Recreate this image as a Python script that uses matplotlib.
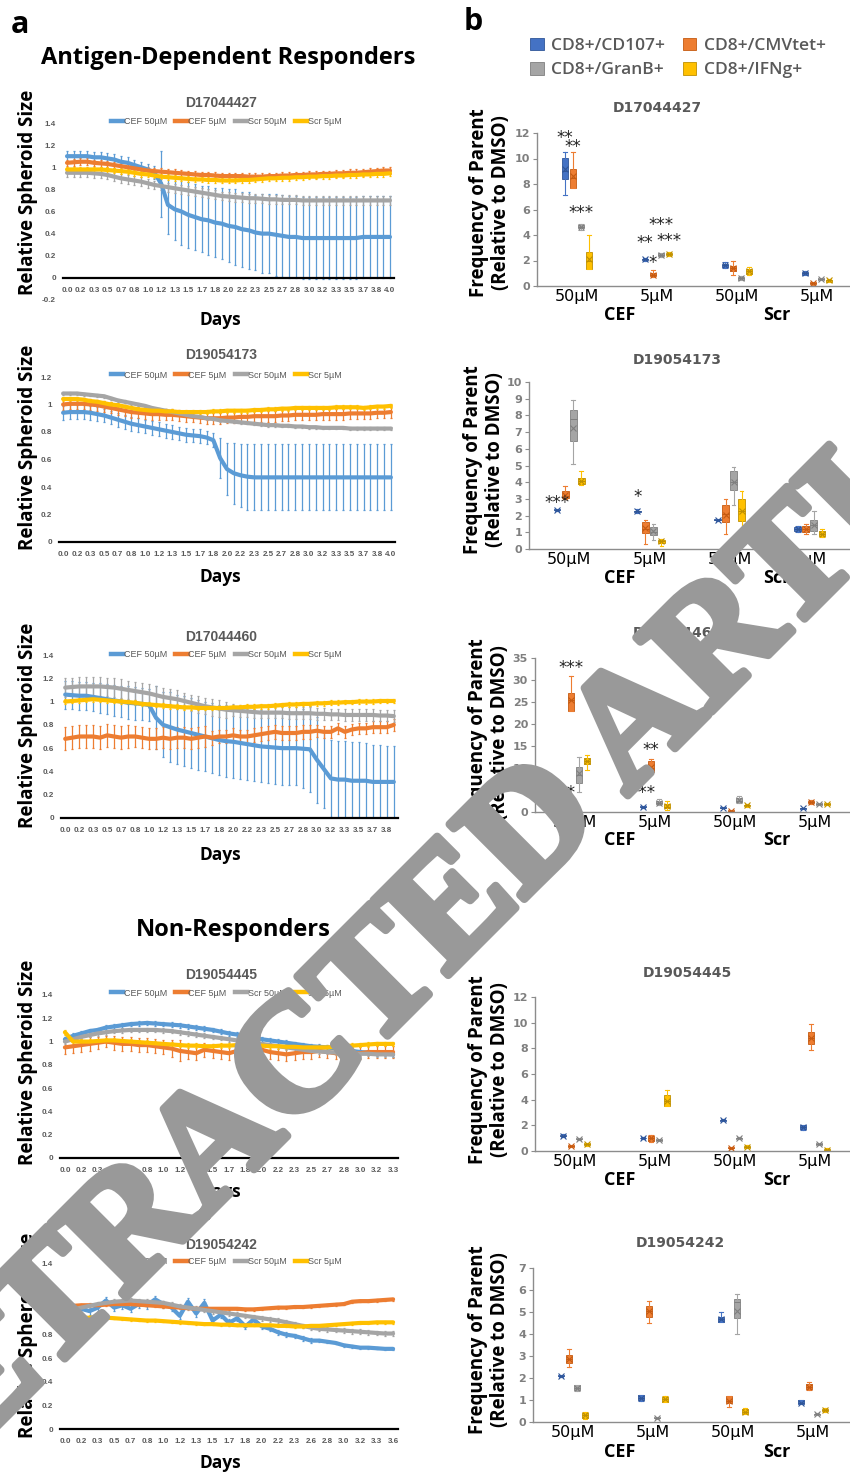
import matplotlib.pyplot as plt
import numpy as np
from matplotlib.patches import Patch
from matplotlib.lines import Line2D
from matplotlib.ticker import MultipleLocator, FuncFormatter
import matplotlib.patheffects as pe

# ---------------- data : panel a (relative spheroid size) ----------------
series_names = ['CEF 50µM', 'CEF 5µM', 'Scr 50µM', 'Scr 5µM']

days_4_0 = ['0.0', '0.2', '0.3', '0.5', '0.7', '0.8', '1.0', '1.2', '1.3', '1.5', '1.7', '1.8', '2.0',
            '2.2', '2.3', '2.5', '2.7', '2.8', '3.0', '3.2', '3.3', '3.5', '3.7', '3.8', '4.0']
days_3_8 = days_4_0[:24]
days_3_3 = days_4_0[:21]
days_3_6 = ['0.0', '0.2', '0.3', '0.5', '0.7', '0.8', '1.0', '1.2', '1.3', '1.5', '1.7', '1.8', '2.0',
            '2.2', '2.3', '2.6', '2.8', '3.0', '3.2', '3.3', '3.6']

# D17044427
d1_cef50 = [1.10, 1.10, 1.10, 1.10, 1.09, 1.09, 1.08, 1.07, 1.05, 1.04, 1.02, 1.00, 0.98,
            0.95, 0.85, 0.66, 0.62, 0.60, 0.57, 0.55, 0.53, 0.52, 0.50, 0.49, 0.47,
            0.46, 0.44, 0.43, 0.41, 0.40, 0.40, 0.39, 0.38, 0.37, 0.37, 0.36, 0.36,
            0.36, 0.36, 0.36, 0.36, 0.36, 0.36, 0.36, 0.37, 0.37, 0.37, 0.37, 0.37]
d1_cef50_err = [0.05, 0.05, 0.05, 0.05, 0.05, 0.05, 0.05, 0.05, 0.05, 0.05, 0.05, 0.05, 0.05, 0.06,
                0.30, 0.26, 0.28, 0.30, 0.30, 0.30, 0.30, 0.31, 0.31, 0.32, 0.33,
                0.34, 0.34, 0.35, 0.34, 0.36, 0.36, 0.37, 0.37, 0.37, 0.37, 0.37, 0.37,
                0.37, 0.37, 0.37, 0.37, 0.37, 0.37, 0.37, 0.37, 0.37, 0.37, 0.37, 0.37]
d1_cef5 = [1.04, 1.045, 1.05, 1.05, 1.04, 1.035, 1.03, 1.02, 1.01, 1.00, 0.99, 0.98, 0.97,
           0.965, 0.96, 0.955, 0.95, 0.945, 0.94, 0.935, 0.93, 0.93, 0.925, 0.92, 0.92,
           0.92, 0.92, 0.915, 0.915, 0.915, 0.92, 0.92, 0.925, 0.925, 0.93, 0.93, 0.935,
           0.935, 0.94, 0.94, 0.945, 0.945, 0.95, 0.95, 0.955, 0.96, 0.965, 0.97, 0.97]
d1_cef5_err = [0.03, 0.03, 0.03, 0.03, 0.03, 0.03, 0.03, 0.03, 0.03, 0.03, 0.03, 0.03, 0.03,
               0.03, 0.03, 0.03, 0.03, 0.03, 0.03, 0.03, 0.03, 0.03, 0.03, 0.03, 0.03,
               0.03, 0.03, 0.03, 0.03, 0.03, 0.03, 0.03, 0.03, 0.03, 0.03, 0.03, 0.03,
               0.03, 0.03, 0.03, 0.03, 0.03, 0.03, 0.03, 0.03, 0.03, 0.03, 0.03, 0.03]
d1_scr50 = [0.95, 0.95, 0.95, 0.95, 0.945, 0.94, 0.93, 0.915, 0.90, 0.89, 0.88, 0.87, 0.855,
            0.84, 0.83, 0.82, 0.81, 0.80, 0.79, 0.78, 0.77, 0.76, 0.75, 0.74, 0.735,
            0.73, 0.725, 0.72, 0.72, 0.715, 0.71, 0.71, 0.705, 0.705, 0.705, 0.70, 0.70,
            0.70, 0.70, 0.70, 0.70, 0.70, 0.70, 0.70, 0.70, 0.70, 0.70, 0.70, 0.70]
d1_scr50_err = [0.04, 0.04, 0.04, 0.04, 0.04, 0.04, 0.04, 0.04, 0.04, 0.04, 0.04, 0.04, 0.04,
                0.04, 0.04, 0.04, 0.04, 0.04, 0.04, 0.04, 0.04, 0.04, 0.04, 0.04, 0.04,
                0.04, 0.04, 0.04, 0.04, 0.04, 0.04, 0.04, 0.04, 0.04, 0.04, 0.04, 0.04,
                0.04, 0.04, 0.04, 0.04, 0.04, 0.04, 0.04, 0.04, 0.04, 0.04, 0.04, 0.04]
d1_scr5 = [0.98, 0.98, 0.98, 0.98, 0.98, 0.98, 0.975, 0.97, 0.965, 0.96, 0.95, 0.94, 0.935,
           0.925, 0.915, 0.91, 0.905, 0.90, 0.895, 0.89, 0.89, 0.885, 0.885, 0.88, 0.88,
           0.88, 0.885, 0.885, 0.89, 0.895, 0.90, 0.90, 0.905, 0.905, 0.91, 0.91, 0.915,
           0.915, 0.92, 0.92, 0.925, 0.925, 0.93, 0.93, 0.935, 0.935, 0.94, 0.94, 0.945]
d1_scr5_err = [0.025, 0.025, 0.025, 0.025, 0.025, 0.025, 0.025, 0.025, 0.025, 0.025, 0.025, 0.025, 0.025,
               0.025, 0.025, 0.025, 0.025, 0.025, 0.025, 0.025, 0.025, 0.025, 0.025, 0.025, 0.025,
               0.025, 0.025, 0.025, 0.025, 0.025, 0.025, 0.025, 0.025, 0.025, 0.025, 0.025, 0.025,
               0.025, 0.025, 0.025, 0.025, 0.025, 0.025, 0.025, 0.025, 0.025, 0.025, 0.025, 0.025]

# D19054173
d2_cef50 = [0.94, 0.945, 0.945, 0.945, 0.94, 0.93, 0.92, 0.905, 0.89, 0.875, 0.86, 0.85, 0.84,
            0.83, 0.82, 0.81, 0.80, 0.79, 0.78, 0.775, 0.77, 0.76, 0.74, 0.61, 0.53,
            0.50, 0.485, 0.475, 0.47, 0.47, 0.47, 0.47, 0.47, 0.47, 0.47, 0.47, 0.47,
            0.47, 0.47, 0.47, 0.47, 0.47, 0.47, 0.47, 0.47, 0.47, 0.47, 0.47, 0.47]
d2_cef50_err = [0.05, 0.05, 0.05, 0.05, 0.05, 0.05, 0.05, 0.05, 0.05, 0.05, 0.05, 0.05, 0.05,
                0.05, 0.05, 0.05, 0.05, 0.05, 0.05, 0.05, 0.05, 0.05, 0.05, 0.145, 0.19,
                0.22, 0.23, 0.24, 0.24, 0.24, 0.24, 0.24, 0.24, 0.24, 0.24, 0.24, 0.24,
                0.24, 0.24, 0.24, 0.24, 0.24, 0.24, 0.24, 0.24, 0.24, 0.24, 0.24, 0.24]
d2_cef5 = [1.00, 1.005, 1.005, 1.005, 1.00, 0.995, 0.985, 0.975, 0.965, 0.955, 0.945, 0.94, 0.935,
           0.93, 0.93, 0.925, 0.925, 0.92, 0.915, 0.91, 0.905, 0.90, 0.90, 0.90, 0.905,
           0.905, 0.91, 0.91, 0.915, 0.915, 0.915, 0.915, 0.92, 0.92, 0.925, 0.925, 0.925,
           0.925, 0.93, 0.93, 0.93, 0.93, 0.935, 0.935, 0.935, 0.935, 0.94, 0.94, 0.945]
d2_cef5_err = [0.04, 0.04, 0.04, 0.04, 0.04, 0.04, 0.04, 0.04, 0.04, 0.04, 0.04, 0.04, 0.04,
               0.04, 0.04, 0.04, 0.04, 0.04, 0.04, 0.04, 0.04, 0.04, 0.04, 0.04, 0.04,
               0.04, 0.04, 0.04, 0.04, 0.04, 0.04, 0.04, 0.04, 0.04, 0.04, 0.04, 0.04,
               0.04, 0.04, 0.04, 0.04, 0.04, 0.04, 0.04, 0.04, 0.04, 0.04, 0.04, 0.04]
d2_scr50 = [1.08, 1.08, 1.08, 1.075, 1.07, 1.065, 1.06, 1.045, 1.03, 1.02, 1.01, 1.00, 0.99,
            0.975, 0.965, 0.955, 0.945, 0.935, 0.925, 0.915, 0.91, 0.90, 0.895, 0.885, 0.88,
            0.875, 0.87, 0.865, 0.86, 0.855, 0.85, 0.85, 0.845, 0.845, 0.84, 0.84, 0.835,
            0.835, 0.83, 0.83, 0.83, 0.83, 0.825, 0.825, 0.825, 0.825, 0.825, 0.825, 0.825]
d2_scr50_err = [0.01, 0.01, 0.01, 0.01, 0.01, 0.01, 0.01, 0.01, 0.01, 0.01, 0.01, 0.01, 0.01,
                0.01, 0.01, 0.01, 0.01, 0.01, 0.01, 0.01, 0.01, 0.01, 0.01, 0.01, 0.01,
                0.01, 0.01, 0.01, 0.01, 0.01, 0.01, 0.01, 0.01, 0.01, 0.01, 0.01, 0.01,
                0.01, 0.01, 0.01, 0.01, 0.01, 0.01, 0.01, 0.01, 0.01, 0.01, 0.01, 0.01]
d2_scr5 = [1.04, 1.04, 1.04, 1.035, 1.025, 1.02, 1.01, 1.00, 0.995, 0.985, 0.975, 0.965, 0.96,
           0.955, 0.955, 0.95, 0.95, 0.945, 0.945, 0.945, 0.945, 0.945, 0.95, 0.95, 0.955,
           0.955, 0.955, 0.955, 0.96, 0.96, 0.965, 0.965, 0.97, 0.97, 0.975, 0.975, 0.975,
           0.975, 0.975, 0.975, 0.98, 0.98, 0.98, 0.98, 0.975, 0.98, 0.985, 0.985, 0.99]
d2_scr5_err = [0.015, 0.015, 0.015, 0.015, 0.015, 0.015, 0.015, 0.015, 0.015, 0.015, 0.015, 0.015, 0.015,
               0.015, 0.015, 0.015, 0.015, 0.015, 0.015, 0.015, 0.015, 0.015, 0.015, 0.015, 0.015,
               0.015, 0.015, 0.015, 0.015, 0.015, 0.015, 0.015, 0.015, 0.015, 0.015, 0.015, 0.015,
               0.015, 0.015, 0.015, 0.015, 0.015, 0.015, 0.015, 0.015, 0.015, 0.015, 0.015, 0.015]

# D17044460
d3_cef50 = [1.06, 1.055, 1.05, 1.05, 1.04, 1.03, 1.02, 1.01, 1.00, 0.99, 0.985, 0.98,
            0.97, 0.86, 0.80, 0.78, 0.76, 0.745, 0.73, 0.715, 0.70, 0.685, 0.67, 0.66,
            0.655, 0.645, 0.635, 0.625, 0.615, 0.61, 0.605, 0.60, 0.60, 0.60, 0.595, 0.59,
            0.50, 0.42, 0.34, 0.33, 0.33, 0.32, 0.32, 0.32, 0.31, 0.31, 0.31, 0.31]
d3_cef50_err = [0.12, 0.12, 0.12, 0.12, 0.12, 0.13, 0.13, 0.13, 0.13, 0.14, 0.14, 0.14,
                0.14, 0.27, 0.28, 0.30, 0.30, 0.30, 0.30, 0.30, 0.30, 0.30, 0.30, 0.31,
                0.31, 0.31, 0.31, 0.31, 0.31, 0.31, 0.31, 0.32, 0.32, 0.32, 0.34, 0.37,
                0.37, 0.33, 0.33, 0.33, 0.33, 0.33, 0.33, 0.32, 0.32, 0.32, 0.31, 0.31]
d3_cef5 = [0.68, 0.69, 0.70, 0.70, 0.70, 0.69, 0.71, 0.70, 0.69, 0.70, 0.70, 0.69,
           0.68, 0.68, 0.69, 0.68, 0.69, 0.69, 0.68, 0.69, 0.70, 0.69, 0.70, 0.70,
           0.71, 0.70, 0.70, 0.71, 0.72, 0.73, 0.74, 0.73, 0.73, 0.73, 0.74, 0.74,
           0.75, 0.74, 0.74, 0.77, 0.74, 0.76, 0.77, 0.77, 0.78, 0.78, 0.78, 0.80]
d3_cef5_err = [0.10, 0.10, 0.10, 0.10, 0.10, 0.10, 0.10, 0.10, 0.10, 0.10, 0.09, 0.09,
               0.09, 0.09, 0.09, 0.09, 0.09, 0.09, 0.09, 0.09, 0.09, 0.06, 0.06, 0.06,
               0.06, 0.06, 0.06, 0.06, 0.06, 0.06, 0.06, 0.06, 0.06, 0.06, 0.06, 0.06,
               0.05, 0.05, 0.05, 0.05, 0.05, 0.05, 0.05, 0.05, 0.05, 0.05, 0.05, 0.05]
d3_scr50 = [1.12, 1.125, 1.13, 1.13, 1.13, 1.13, 1.125, 1.12, 1.11, 1.10, 1.09, 1.08,
            1.07, 1.055, 1.04, 1.03, 1.02, 1.005, 0.99, 0.975, 0.96, 0.95, 0.94, 0.93,
            0.925, 0.92, 0.915, 0.91, 0.905, 0.905, 0.905, 0.905, 0.90, 0.90, 0.90, 0.90,
            0.895, 0.895, 0.89, 0.89, 0.885, 0.885, 0.885, 0.885, 0.885, 0.88, 0.88, 0.875]
d3_scr50_err = [0.08, 0.08, 0.08, 0.08, 0.08, 0.08, 0.08, 0.08, 0.08, 0.08, 0.08, 0.08,
                0.08, 0.08, 0.08, 0.08, 0.08, 0.07, 0.07, 0.07, 0.07, 0.07, 0.07, 0.07,
                0.05, 0.05, 0.05, 0.05, 0.05, 0.05, 0.05, 0.05, 0.05, 0.05, 0.05, 0.05,
                0.05, 0.05, 0.05, 0.05, 0.05, 0.05, 0.05, 0.05, 0.05, 0.05, 0.05, 0.05]
d3_scr5 = [1.00, 1.005, 1.01, 1.015, 1.02, 1.015, 1.01, 1.005, 1.00, 0.995, 0.99, 0.98,
           0.975, 0.97, 0.965, 0.96, 0.955, 0.95, 0.95, 0.945, 0.945, 0.945, 0.945, 0.945,
           0.95, 0.95, 0.955, 0.955, 0.96, 0.96, 0.965, 0.97, 0.975, 0.975, 0.98, 0.98,
           0.985, 0.985, 0.99, 0.99, 0.995, 0.995, 1.00, 1.00, 1.00, 1.005, 1.005, 1.005]
d3_scr5_err = [0.02, 0.02, 0.02, 0.02, 0.02, 0.02, 0.02, 0.02, 0.02, 0.02, 0.02, 0.02,
               0.02, 0.02, 0.02, 0.02, 0.02, 0.02, 0.02, 0.02, 0.02, 0.02, 0.02, 0.02,
               0.02, 0.02, 0.02, 0.02, 0.02, 0.02, 0.02, 0.02, 0.02, 0.02, 0.02, 0.02,
               0.02, 0.02, 0.02, 0.02, 0.02, 0.02, 0.02, 0.02, 0.02, 0.02, 0.02, 0.02]

# D19054445
d4_cef50 = [1.02, 1.05, 1.07, 1.09, 1.10, 1.12, 1.13, 1.14, 1.15, 1.155, 1.16,
            1.155, 1.15, 1.145, 1.14, 1.13, 1.12, 1.11, 1.10, 1.085, 1.07,
            1.06, 1.05, 1.035, 1.02, 1.01, 1.00, 0.99, 0.98, 0.97, 0.96,
            0.955, 0.95, 0.94, 0.93, 0.92, 0.91, 0.905, 0.90, 0.895, 0.89]
d4_cef50_err = [0.02, 0.02, 0.02, 0.02, 0.02, 0.02, 0.02, 0.02, 0.02, 0.02, 0.02,
                0.02, 0.02, 0.02, 0.02, 0.02, 0.02, 0.02, 0.02, 0.02, 0.02,
                0.02, 0.02, 0.02, 0.02, 0.02, 0.02, 0.02, 0.02, 0.02, 0.02,
                0.02, 0.02, 0.02, 0.02, 0.02, 0.02, 0.02, 0.02, 0.02, 0.02]
d4_cef5 = [0.95, 0.96, 0.97, 0.98, 0.99, 1.00, 0.99, 0.98, 0.98, 0.97, 0.97,
           0.96, 0.95, 0.94, 0.92, 0.91, 0.90, 0.93, 0.92, 0.91, 0.90,
           0.92, 0.93, 0.91, 0.93, 0.91, 0.90, 0.89, 0.90, 0.91, 0.91,
           0.92, 0.91, 0.90, 0.90, 0.90, 0.90, 0.91, 0.91, 0.91, 0.91]
d4_cef5_err = [0.06, 0.06, 0.06, 0.06, 0.05, 0.05, 0.06, 0.06, 0.06, 0.06, 0.06,
               0.06, 0.06, 0.07, 0.09, 0.06, 0.06, 0.06, 0.06, 0.06, 0.06,
               0.06, 0.06, 0.06, 0.06, 0.06, 0.06, 0.06, 0.06, 0.06, 0.06,
               0.05, 0.05, 0.05, 0.05, 0.05, 0.05, 0.05, 0.05, 0.05, 0.05]
d4_scr50 = [1.00, 1.02, 1.04, 1.055, 1.07, 1.08, 1.09, 1.095, 1.10, 1.10, 1.10,
            1.10, 1.095, 1.09, 1.08, 1.07, 1.06, 1.05, 1.04, 1.03, 1.02,
            1.01, 1.00, 0.99, 0.98, 0.97, 0.96, 0.95, 0.94, 0.93, 0.92,
            0.915, 0.91, 0.905, 0.90, 0.90, 0.895, 0.895, 0.89, 0.89, 0.89]
d4_scr50_err = [0.02, 0.02, 0.02, 0.02, 0.02, 0.02, 0.02, 0.02, 0.02, 0.02, 0.02,
                0.02, 0.02, 0.02, 0.02, 0.02, 0.02, 0.02, 0.02, 0.02, 0.02,
                0.02, 0.02, 0.02, 0.02, 0.02, 0.02, 0.02, 0.02, 0.02, 0.02,
                0.02, 0.02, 0.02, 0.02, 0.02, 0.02, 0.02, 0.02, 0.02, 0.02]
d4_scr5 = [1.08, 1.00, 1.00, 1.00, 1.005, 1.01, 1.01, 1.005, 1.00, 0.995, 0.99,
           0.985, 0.98, 0.975, 0.97, 0.965, 0.965, 0.96, 0.96, 0.965, 0.965,
           0.97, 0.97, 0.965, 0.965, 0.96, 0.96, 0.955, 0.955, 0.95, 0.95,
           0.95, 0.95, 0.955, 0.96, 0.965, 0.97, 0.975, 0.98, 0.98, 0.98]
d4_scr5_err = [0.02, 0.02, 0.02, 0.02, 0.02, 0.02, 0.02, 0.02, 0.02, 0.02, 0.02,
               0.02, 0.02, 0.02, 0.02, 0.02, 0.02, 0.02, 0.02, 0.02, 0.02,
               0.02, 0.02, 0.02, 0.02, 0.02, 0.02, 0.02, 0.02, 0.02, 0.02,
               0.02, 0.02, 0.02, 0.02, 0.02, 0.02, 0.02, 0.02, 0.02, 0.02]

# D19054242
d5_cef50 = [0.95, 1.00, 1.02, 1.00, 1.03, 1.09, 1.03, 1.05, 1.02, 1.06, 1.05,
            1.10, 1.06, 1.03, 0.96, 1.08, 0.98, 1.07, 0.92, 0.97, 0.90,
            0.94, 0.87, 0.93, 0.87, 0.85, 0.82, 0.80, 0.79, 0.77, 0.75,
            0.75, 0.74, 0.73, 0.71, 0.70, 0.69, 0.69, 0.685, 0.68, 0.68]
d5_cef50_err = [0.03, 0.03, 0.03, 0.03, 0.03, 0.03, 0.03, 0.03, 0.03, 0.03, 0.03,
                0.03, 0.03, 0.03, 0.03, 0.03, 0.03, 0.03, 0.03, 0.03, 0.03,
                0.02, 0.02, 0.02, 0.02, 0.02, 0.02, 0.02, 0.02, 0.02, 0.02,
                0.01, 0.01, 0.01, 0.01, 0.01, 0.01, 0.01, 0.01, 0.01, 0.01]
d5_cef5 = [1.04, 1.045, 1.05, 1.05, 1.05, 1.055, 1.06, 1.06, 1.06, 1.055, 1.05,
           1.045, 1.04, 1.035, 1.03, 1.025, 1.02, 1.02, 1.02, 1.02, 1.02,
           1.02, 1.015, 1.015, 1.02, 1.025, 1.03, 1.03, 1.035, 1.035, 1.04,
           1.045, 1.05, 1.055, 1.06, 1.08, 1.085, 1.085, 1.09, 1.095, 1.10]
d5_cef5_err = [0.01, 0.01, 0.01, 0.01, 0.01, 0.01, 0.01, 0.01, 0.01, 0.01, 0.01,
               0.01, 0.01, 0.01, 0.01, 0.01, 0.01, 0.01, 0.01, 0.01, 0.01,
               0.01, 0.01, 0.01, 0.01, 0.01, 0.01, 0.01, 0.01, 0.01, 0.01,
               0.01, 0.01, 0.01, 0.01, 0.01, 0.01, 0.01, 0.01, 0.01, 0.01]
d5_scr50 = [1.00, 1.015, 1.03, 1.045, 1.06, 1.07, 1.08, 1.085, 1.09, 1.085, 1.08,
            1.075, 1.07, 1.055, 1.04, 1.03, 1.02, 1.01, 1.00, 0.99, 0.98,
            0.97, 0.96, 0.95, 0.94, 0.93, 0.92, 0.905, 0.89, 0.875, 0.86,
            0.85, 0.845, 0.84, 0.835, 0.83, 0.825, 0.82, 0.815, 0.81, 0.81]
d5_scr50_err = [0.02, 0.02, 0.02, 0.02, 0.02, 0.02, 0.02, 0.02, 0.02, 0.02, 0.02,
                0.02, 0.02, 0.02, 0.02, 0.02, 0.02, 0.02, 0.02, 0.02, 0.02,
                0.02, 0.02, 0.02, 0.02, 0.02, 0.02, 0.02, 0.02, 0.02, 0.02,
                0.02, 0.02, 0.02, 0.02, 0.02, 0.02, 0.02, 0.02, 0.02, 0.02]
d5_scr5 = [0.97, 0.93, 0.94, 0.945, 0.945, 0.945, 0.94, 0.935, 0.93, 0.925, 0.92,
           0.92, 0.915, 0.91, 0.905, 0.90, 0.895, 0.89, 0.89, 0.885, 0.885,
           0.88, 0.88, 0.88, 0.88, 0.88, 0.875, 0.875, 0.87, 0.87, 0.875,
           0.875, 0.88, 0.885, 0.89, 0.895, 0.90, 0.90, 0.905, 0.905, 0.905]
d5_scr5_err = [0.01, 0.01, 0.01, 0.01, 0.01, 0.01, 0.01, 0.01, 0.01, 0.01, 0.01,
               0.01, 0.01, 0.01, 0.01, 0.01, 0.01, 0.01, 0.01, 0.01, 0.01,
               0.01, 0.01, 0.01, 0.01, 0.01, 0.01, 0.01, 0.01, 0.01, 0.01,
               0.01, 0.01, 0.01, 0.01, 0.01, 0.01, 0.01, 0.01, 0.01, 0.01]

# ---------------- data : panel b (box plots) ----------------
# rows: [low whisker, q1, median, q3, high whisker, mean]; order = condition x marker
markers_b = ['CD8+/CD107+', 'CD8+/CMVtet+', 'CD8+/GranB+', 'CD8+/IFNg+']
conditions = ['50µM', '5µM', '50µM', '5µM']

b1_boxes = [[7.1, 8.4, 9.0, 10.05, 10.5, 9.2], [7.7, 7.7, 8.5, 9.15, 10.5, 8.6],
            [4.4, 4.55, 4.65, 4.8, 4.9, 4.65], [1.3, 1.3, 2.0, 2.65, 4.0, 2.15],
            [2.0, 2.05, 2.1, 2.15, 2.2, 2.1], [0.7, 0.75, 0.85, 1.0, 1.25, 0.9],
            [2.3, 2.35, 2.45, 2.55, 2.6, 2.45], [2.35, 2.4, 2.5, 2.6, 2.65, 2.5],
            [1.45, 1.5, 1.65, 1.75, 1.85, 1.65], [0.9, 1.15, 1.4, 1.6, 2.0, 1.4],
            [0.45, 0.5, 0.6, 0.7, 0.75, 0.6], [0.85, 0.95, 1.15, 1.35, 1.5, 1.15],
            [0.85, 0.9, 1.0, 1.1, 1.2, 1.0], [0.1, 0.15, 0.25, 0.3, 0.35, 0.25],
            [0.45, 0.5, 0.55, 0.6, 0.65, 0.55], [0.3, 0.35, 0.45, 0.5, 0.55, 0.45]]
b2_boxes = [[2.3, 2.32, 2.35, 2.38, 2.42, 2.35], [3.0, 3.05, 3.2, 3.45, 3.8, 3.25],
            [5.1, 6.45, 7.8, 8.35, 8.9, 7.25], [3.85, 3.9, 4.05, 4.25, 4.7, 4.1],
            [2.15, 2.2, 2.25, 2.3, 2.4, 2.25], [0.3, 0.95, 1.2, 1.6, 1.75, 1.25],
            [0.55, 0.85, 1.0, 1.3, 1.5, 1.05], [0.2, 0.35, 0.45, 0.55, 0.6, 0.45],
            [1.7, 1.72, 1.75, 1.78, 1.8, 1.75], [0.9, 1.6, 2.1, 2.65, 3.0, 2.05],
            [2.65, 3.55, 4.0, 4.65, 4.9, 4.0], [1.1, 1.7, 2.3, 3.0, 3.45, 2.3],
            [1.0, 1.1, 1.2, 1.3, 1.4, 1.2], [0.9, 1.0, 1.2, 1.4, 1.5, 1.2],
            [0.9, 1.1, 1.45, 1.75, 2.25, 1.45], [0.7, 0.8, 0.9, 1.05, 1.2, 0.9]]
b3_boxes = [[1.3, 1.45, 1.6, 1.75, 1.9, 1.6], [23.0, 23.0, 25.5, 27.0, 31.0, 25.5],
            [4.5, 6.6, 8.5, 10.2, 12.5, 8.9], [9.5, 11.0, 11.5, 12.2, 13.0, 11.6],
            [1.0, 1.1, 1.2, 1.3, 1.4, 1.2], [8.8, 9.2, 10.0, 11.5, 12.0, 10.2],
            [1.5, 1.8, 2.1, 2.4, 3.0, 2.1], [0.5, 0.8, 1.2, 1.9, 2.5, 1.3],
            [0.8, 0.9, 1.0, 1.1, 1.2, 1.0], [0.1, 0.2, 0.3, 0.4, 0.5, 0.3],
            [2.0, 2.2, 2.6, 3.2, 3.6, 2.7], [1.1, 1.3, 1.5, 1.7, 1.9, 1.5],
            [0.6, 0.7, 0.8, 0.9, 1.0, 0.8], [1.9, 2.0, 2.2, 2.5, 2.7, 2.25],
            [1.5, 1.6, 1.8, 2.0, 2.1, 1.8], [1.5, 1.65, 1.8, 2.0, 2.1, 1.8]]
b4_boxes = [[1.1, 1.15, 1.2, 1.25, 1.3, 1.2], [0.3, 0.35, 0.4, 0.45, 0.5, 0.4],
            [0.85, 0.9, 0.95, 1.0, 1.05, 0.95], [0.4, 0.45, 0.55, 0.6, 0.65, 0.55],
            [0.95, 0.98, 1.0, 1.05, 1.08, 1.0], [0.7, 0.8, 1.0, 1.2, 1.25, 1.0],
            [0.75, 0.8, 0.86, 0.9, 0.95, 0.86], [3.5, 3.5, 3.9, 4.35, 4.75, 3.9],
            [2.3, 2.35, 2.4, 2.45, 2.5, 2.4], [0.15, 0.2, 0.25, 0.3, 0.35, 0.25],
            [0.9, 0.95, 1.0, 1.05, 1.1, 1.0], [0.2, 0.25, 0.3, 0.4, 0.45, 0.32],
            [1.6, 1.7, 1.85, 2.0, 2.05, 1.85], [7.9, 8.3, 8.8, 9.3, 9.9, 8.8],
            [0.45, 0.5, 0.55, 0.6, 0.65, 0.55], [0.0, 0.05, 0.1, 0.15, 0.2, 0.1]]
b5_boxes = [[2.05, 2.08, 2.1, 2.12, 2.15, 2.1], [2.5, 2.66, 2.85, 3.04, 3.3, 2.85],
            [1.42, 1.45, 1.55, 1.68, 1.7, 1.55], [0.15, 0.18, 0.3, 0.4, 0.45, 0.3],
            [0.95, 1.0, 1.1, 1.23, 1.25, 1.1], [4.5, 4.77, 5.05, 5.27, 5.5, 5.05],
            [0.15, 0.18, 0.2, 0.22, 0.25, 0.2], [0.9, 0.92, 1.03, 1.15, 1.2, 1.03],
            [4.55, 4.55, 4.68, 4.77, 5.0, 4.68], [0.7, 0.86, 0.97, 1.18, 1.2, 0.97],
            [4.0, 4.73, 5.45, 5.6, 5.8, 5.05], [0.35, 0.36, 0.45, 0.6, 0.62, 0.45],
            [0.8, 0.82, 0.88, 1.0, 1.0, 0.88], [1.45, 1.5, 1.6, 1.72, 1.8, 1.6],
            [0.3, 0.33, 0.35, 0.38, 0.4, 0.35], [0.45, 0.5, 0.55, 0.6, 0.62, 0.55]]

# significance marks: (condition, marker, y, text)
b1_stars = [(0, 0, 11.6, '**'), (0, 1, 10.9, '**'), (0, 2, 5.7, '***'), (1, 0, 3.4, '**'),
            (1, 1, 1.8, '*'), (1, 2, 4.8, '***'), (1, 3, 3.5, '***')]
b2_stars = [(0, 0, 2.75, '***'), (1, 0, 3.1, '*')]
b3_stars = [(0, 1, 32.7, '***'), (0, 0, 4.3, '***'), (1, 1, 14.1, '**'), (1, 0, 4.3, '***')]

# ---------------- figure ----------------
W, H = 850, 1474
fig = plt.figure(figsize=(W / 100, H / 100), dpi=100)
HEAD = ['Open Sans', 'DejaVu Sans']
NARROW = ['Liberation Sans Narrow', 'Liberation Sans', 'DejaVu Sans']
line_cols = ['#5B9BD5', '#ED7D31', '#A5A5A5', '#FFC000']
box_cols = ['#4472C4', '#ED7D31', '#A5A5A5', '#FFC000']
box_edge = ['#2F5597', '#C55A11', '#7F7F7F', '#BF9000']
GREY = '#595959'


def add_ax(left, top, right, bottom):
    return fig.add_axes([left / W, 1 - bottom / H, (right - left) / W, (bottom - top) / H])


def ftext(x, y, s, **kw):
    return fig.text(x / W, 1 - y / H, s, **kw)


# ---- panel a ----
line_panels = [
    ('D17044427', [d1_cef50, d1_cef5, d1_scr50, d1_scr5],
     [d1_cef50_err, d1_cef5_err, d1_scr50_err, d1_scr5_err], days_4_0,
     (63, 123, 394, 300), (-0.2, 1.4), 103, 122, 320, 192),
    ('D19054173', [d2_cef50, d2_cef5, d2_scr50, d2_scr5],
     [d2_cef50_err, d2_cef5_err, d2_scr50_err, d2_scr5_err], days_4_0,
     (59, 377, 395, 542), (0, 1.2), 355, 375, 577, 447),
    ('D17044460', [d3_cef50, d3_cef5, d3_scr50, d3_scr5],
     [d3_cef50_err, d3_cef5_err, d3_scr50_err, d3_scr5_err], days_3_8,
     (61, 655, 398, 818), (0, 1.4), 637, 655, 855, 725),
    ('D19054445', [d4_cef50, d4_cef5, d4_scr50, d4_scr5],
     [d4_cef50_err, d4_cef5_err, d4_scr50_err, d4_scr5_err], days_3_3,
     (60, 995, 398, 1158), (0, 1.4), 975, 993, 1192, 1062),
    ('D19054242', [d5_cef50, d5_cef5, d5_scr50, d5_scr5],
     [d5_cef50_err, d5_cef5_err, d5_scr50_err, d5_scr5_err], days_3_6,
     (60, 1264, 398, 1429), (0, 1.4), 1245, 1262, 1463, 1335),
]

for title, ys, errs, xlabels, box, ylim, ty, ly, dy, yl in line_panels:
    ax = add_ax(*box)
    n = len(ys[0])
    x = np.arange(n)
    for y, e, c in zip(ys, errs, line_cols):
        ax.errorbar(x, y, yerr=e, color=c, lw=3.0, elinewidth=0.9, capsize=1.0,
                    capthick=0.9, solid_capstyle='round')
    ax.set_xlim(-0.6, n - 0.4)
    ax.set_ylim(*ylim)
    for s in ['top', 'right', 'left']:
        ax.spines[s].set_visible(False)
    ax.spines['bottom'].set_position(('data', 0))
    ax.spines['bottom'].set_linewidth(1.6)
    ax.spines['bottom'].set_color('black')
    ax.set_xticks(x[::2])
    ax.set_xticklabels(xlabels)
    ax.yaxis.set_major_locator(MultipleLocator(0.2))
    ax.yaxis.set_major_formatter(FuncFormatter(lambda v, p: f'{v:g}'))
    ax.tick_params(length=0, labelsize=5.8, labelcolor=GREY)
    ax.tick_params(axis='x', pad=6.5)
    ax.tick_params(axis='y', pad=5)
    for lab in ax.get_xticklabels() + ax.get_yticklabels():
        lab.set_family(NARROW)
        lab.set_fontweight('bold')
    handles = [Line2D([], [], color=c, lw=3.2) for c in line_cols]
    fig.legend(handles, series_names, ncol=4, loc='center', bbox_to_anchor=(226 / W, 1 - ly / H),
               frameon=False, handlelength=1.4, handletextpad=0.05, columnspacing=0.9,
               prop={'family': NARROW, 'size': 6.5}, labelcolor=GREY)
    ftext(221, ty, title, ha='center', va='center', fontsize=10, color=GREY,
          family=NARROW, fontweight='bold')
    ftext(220, dy, 'Days', ha='center', va='center', fontsize=12.5, fontweight='bold', family=HEAD)
    ftext(28, yl, 'Relative Spheroid Size', ha='center', va='center', rotation=90,
          fontsize=13.5, fontweight='bold', family=HEAD)

ftext(20, 25, 'a', ha='center', va='center', fontsize=22, fontweight='bold', family=HEAD)
ftext(228, 58, 'Antigen-Dependent Responders', ha='center', va='center', fontsize=17,
      fontweight='bold', family=HEAD)
ftext(233, 930, 'Non-Responders', ha='center', va='center', fontsize=17,
      fontweight='bold', family=HEAD)

# ---- panel b ----
ftext(473, 22, 'b', ha='center', va='center', fontsize=22, fontweight='bold', family=HEAD)
leg_order = [0, 2, 1, 3]   # legend fills column-wise; this gives the row layout of the figure
fig.legend([Patch(fc=box_cols[i], ec=box_edge[i], lw=0.6) for i in leg_order],
           [markers_b[i] for i in leg_order],
           ncol=2, loc='center', bbox_to_anchor=(678 / W, 1 - 58 / H), frameon=False,
           handlelength=0.75, handleheight=0.75, handletextpad=0.45, columnspacing=1.0,
           labelspacing=0.45, prop={'family': HEAD, 'size': 12.5, 'weight': 'semibold'},
           labelcolor=GREY)

box_panels = [
    ('D17044427', b1_boxes, b1_stars, (537, 133, 857, 286), 12, 2, 108, 657, 490, 203, 315),
    ('D19054173', b2_boxes, b2_stars, (529, 382, 850, 549), 10, 1, 360, 677, 484, 460, 578),
    ('D17044460', b3_boxes, b3_stars, (535, 658, 855, 812), 35, 5, 633, 677, 489, 733, 840),
    ('D19054445', b4_boxes, [], (535, 997, 855, 1151), 12, 2, 973, 687, 489, 1070, 1180),
    ('D19054242', b5_boxes, [], (533, 1268, 853, 1422), 7, 1, 1243, 680, 489, 1340, 1452),
]
offsets = [-0.15, -0.05, 0.05, 0.15]

for title, rows, stars, box, ymax, ystep, ty, tx, ylx, yl, gy in box_panels:
    ax = add_ax(*box)
    for k in range(4):
        stats = []
        for cond in range(4):
            lo, q1, med, q3, hi, mean = rows[cond * 4 + k]
            stats.append(dict(whislo=lo, q1=q1, med=med, q3=q3, whishi=hi, mean=mean))
        pos = [cond + offsets[k] for cond in range(4)]
        ax.bxp(stats, positions=pos, widths=0.085, patch_artist=True, showmeans=True,
               showfliers=False, manage_ticks=False,
               boxprops=dict(facecolor=box_cols[k], edgecolor=box_edge[k], lw=0.6),
               whiskerprops=dict(color=box_cols[k], lw=0.8),
               capprops=dict(color=box_cols[k], lw=0.8),
               medianprops=dict(color=box_edge[k], lw=0.7),
               meanprops=dict(marker='x', markersize=4.5, markeredgecolor=box_edge[k],
                              markeredgewidth=0.8))
    for cond, k, yv, s in stars:
        ax.text(cond + offsets[k], yv, s, ha='center', va='center', fontsize=12, color='#222222')
    ax.set_xlim(-0.5, 3.5)
    ax.set_ylim(0, ymax)
    ax.yaxis.set_major_locator(MultipleLocator(ystep))
    ax.set_xticks(range(4))
    ax.set_xticklabels(conditions, fontsize=11.5)
    for s in ['top', 'right']:
        ax.spines[s].set_visible(False)
    for s in ['left', 'bottom']:
        ax.spines[s].set_color('#8C8C8C')
        ax.spines[s].set_linewidth(1.0)
    ax.tick_params(axis='x', length=0, pad=2)
    ax.tick_params(axis='y', length=3, color='#8C8C8C', labelsize=8, labelcolor='#7F7F7F', pad=2)
    for lab in ax.get_yticklabels():
        lab.set_fontweight('bold')
    ftext(tx, ty, title, ha='center', va='center', fontsize=10, color=GREY, fontweight='bold')
    ftext(ylx, yl, 'Frequency of Parent\n(Relative to DMSO)', ha='center', va='center',
          rotation=90, fontsize=13.5, fontweight='bold', family=HEAD, linespacing=1.15)
    ftext(620, gy, 'CEF', ha='center', va='center', fontsize=13, fontweight='bold', family=HEAD)
    ftext(777, gy, 'Scr', ha='center', va='center', fontsize=13, fontweight='bold', family=HEAD)

# retraction watermark over the whole page
ftext(488, 880, 'RETRACTED ARTICLE', ha='center', va='center', rotation=45, fontsize=116,
      family=['Liberation Serif', 'DejaVu Serif'], fontweight='bold', color='#999999', zorder=50,
      path_effects=[pe.withStroke(linewidth=6, foreground='#999999')])

fig.savefig('out.png', dpi=100)
